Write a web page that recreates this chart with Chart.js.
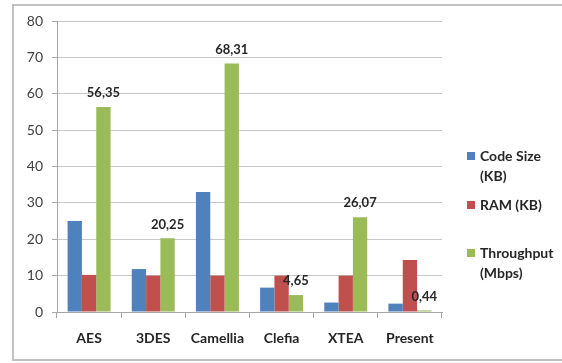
<!DOCTYPE html>
<html>
<head>
<meta charset="utf-8">
<script src="https://cdn.jsdelivr.net/npm/chart.js@4/dist/chart.umd.min.js"></script>
<style>
  html, body { margin: 0; padding: 0; background: #ffffff; }
  #wrap { width: 562px; height: 363px; position: relative; }
</style>
</head>
<body>
<div id="wrap"><canvas id="c" width="562" height="363"></canvas></div>
<script>
// Block ciphers compared
const categories = ['AES', '3DES', 'Camellia', 'Clefia', 'XTEA', 'Present'];
const seriesNames = ['Code Size (KB)', 'RAM (KB)', 'Throughput (Mbps)'];
const codeSize = [25, 11.8, 33, 6.7, 2.6, 2.3];
const ram = [10.2, 10, 10, 10, 10, 14.3];
const throughput = [56.35, 20.25, 68.31, 4.65, 26.07, 0.44];
const yTicks = [0, 10, 20, 30, 40, 50, 60, 70, 80];

const colors = ['#4F81BD', '#C0504D', '#9BBB59'];
const FONT = 'Lato, "Liberation Sans", sans-serif';

// Frame around the whole chart
const framePlugin = {
  id: 'frame',
  beforeDraw(chart) {
    const ctx = chart.ctx;
    ctx.save();
    ctx.fillStyle = '#ffffff';
    ctx.fillRect(0, 0, chart.width, chart.height);
    ctx.strokeStyle = '#C2C2C2';
    ctx.lineWidth = 2;
    ctx.strokeRect(13, 5, chart.width + 20, chart.height - 8);
    ctx.restore();
  }
};

// Value labels above the throughput bars (decimal comma)
const valueLabels = {
  id: 'valueLabels',
  afterDatasetsDraw(chart) {
    const ctx = chart.ctx;
    const idx = 2;
    const meta = chart.getDatasetMeta(idx);
    const data = chart.data.datasets[idx].data;
    ctx.save();
    ctx.font = 'bold 13px ' + FONT;
    ctx.fillStyle = '#262626';
    ctx.textAlign = 'center';
    ctx.textBaseline = 'middle';
    meta.data.forEach((bar, i) => {
      const txt = data[i].toFixed(2).replace('.', ',');
      ctx.fillText(txt, bar.x, bar.y - 14);
    });
    ctx.restore();
  }
};

// Legend on the right, with wrapped item text
const sideLegend = {
  id: 'sideLegend',
  afterDraw(chart, args, opts) {
    const ctx = chart.ctx;
    ctx.save();
    ctx.font = 'bold 14px ' + FONT;
    ctx.fillStyle = '#262626';
    ctx.textBaseline = 'middle';
    chart.data.datasets.forEach((ds, i) => {
      const y0 = opts.itemY[i];
      ctx.fillStyle = ds.backgroundColor;
      ctx.fillRect(opts.x, y0 - 4, 8, 8);
      ctx.fillStyle = '#262626';
      // wrap words to fit width
      const words = ds.label.split(' ');
      const lines = [];
      let cur = '';
      words.forEach(w => {
        const test = cur ? cur + ' ' + w : w;
        if (ctx.measureText(test).width > opts.maxWidth && cur) {
          lines.push(cur);
          cur = w;
        } else {
          cur = test;
        }
      });
      lines.push(cur);
      lines.forEach((ln, k) => ctx.fillText(ln, opts.x + 13, y0 + k * opts.lineHeight));
    });
    ctx.restore();
  }
};

new Chart(document.getElementById('c'), {
  type: 'bar',
  data: {
    labels: categories,
    datasets: [
      { label: seriesNames[0], data: codeSize, backgroundColor: colors[0] },
      { label: seriesNames[1], data: ram, backgroundColor: colors[1] },
      { label: seriesNames[2], data: throughput, backgroundColor: colors[2] }
    ]
  },
  options: {
    responsive: false,
    animation: false,
    devicePixelRatio: 1,
    layout: { padding: { left: 0, right: 120, top: 21, bottom: 0 } },
    datasets: { bar: { categoryPercentage: 0.67, barPercentage: 1.0 } },
    plugins: {
      legend: { display: false },
      tooltip: { enabled: false },
      sideLegend: { x: 467, itemY: [156, 205, 253], lineHeight: 20.5, maxWidth: 78 }
    },
    scales: {
      x: {
        offset: true,
        grid: { display: true, drawOnChartArea: false, offset: true, tickLength: 6, color: '#A6A6A6' },
        border: { display: true, color: '#A6A6A6' },
        ticks: { color: '#262626', font: { family: FONT, size: 14, weight: 'bold' }, padding: 12 },
        afterFit(s) { s.height = 51; }
      },
      y: {
        min: 0,
        max: 80,
        afterBuildTicks(s) { s.ticks = yTicks.map(v => ({ value: v })); },
        grid: { color: '#C8C8C8', tickLength: 5, tickColor: '#A6A6A6' },
        border: { display: true, color: '#A6A6A6' },
        ticks: { color: '#404040', font: { family: FONT, size: 14 }, padding: 9 },
        afterFit(s) { s.width = 57; }
      }
    }
  },
  plugins: [framePlugin, valueLabels, sideLegend]
});
</script>
</body>
</html>
